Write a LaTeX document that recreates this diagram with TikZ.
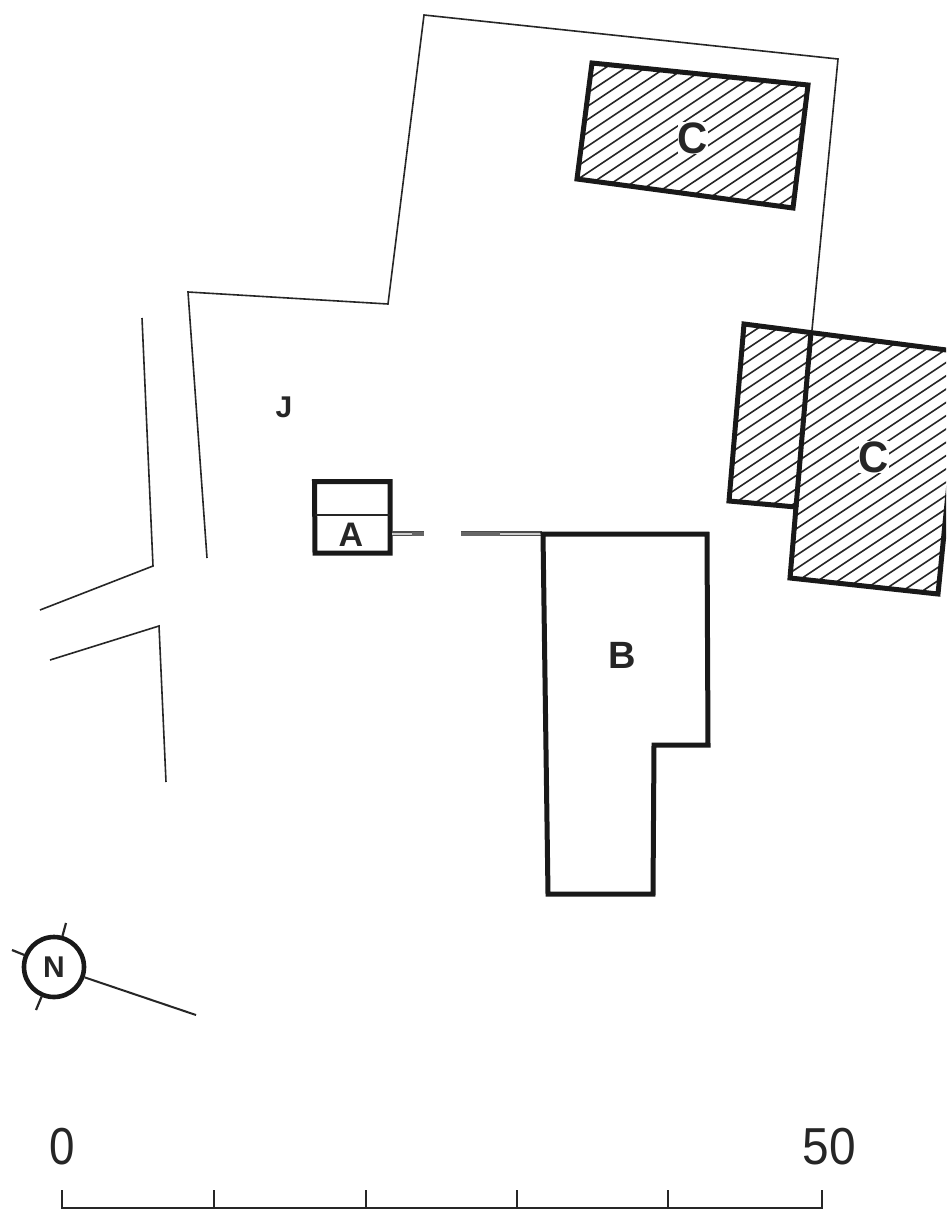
\documentclass[tikz,border=0pt]{standalone}
\usepackage{fontspec}
\setmainfont{Liberation Sans}
\tikzset{
  thinwall/.style={draw=black!85,line width=1.6pt,line join=miter},
  heavy/.style={draw=black!90,line width=5pt,line join=miter},
  hatch/.style={draw=black!85,line width=1.6pt},
  lab/.style={inner sep=0pt,text=black!85},
  scaleline/.style={draw=black!85,line width=1.5pt},
  stub/.style={draw=black!70,double=black!20,double distance=2pt,line width=1.3pt},
  stubdark/.style={draw=black!60,line width=4pt}
}
\begin{document}
\begin{tikzpicture}[x=1pt,y=-1pt]
\useasboundingbox (0,0) rectangle (946,1210);
\clip (0,0) rectangle (946,1210);
\fill[white] (0,0) rectangle (946,1210);
% site boundary and road
\draw[thinwall] (207,558) -- (188,292) -- (388,304) -- (424,15) -- (838,59) -- (812,330);
\draw[thinwall] (142,318) -- (153,566) -- (40,610);
\draw[thinwall] (50,660) -- (159,626) -- (166,782);
% hatched block top
\begin{scope}
  \clip (592,63) -- (808,85) -- (793,208) -- (577,179) -- cycle;
  \foreach \i in {0,...,30}{
    \draw[hatch] (500,{\i*13.3+111.4}) -- (1000,{\i*13.3+111.4-333});
  }
\end{scope}
\draw[heavy] (592,63) -- (808,85) -- (793,208) -- (577,179) -- cycle;
\node[lab,font=\bfseries\fontsize{44}{44}\selectfont,fill=white,xscale=0.95] (c1) at (693,138) {C};
% hatched block right
\begin{scope}
  \clip (744,324) -- (962,352) -- (938,594) -- (790,578) -- (796,507) -- (729,501) -- cycle;
  \foreach \i in {0,...,36}{
    \draw[hatch] (500,{\i*13.3+446.8}) -- (1000,{\i*13.3+446.8-333});
  }
\end{scope}
\draw[heavy] (744,324) -- (962,352) -- (938,594) -- (790,578) -- (796,507) -- (729,501) -- cycle;
\draw[heavy] (811,332) -- (796,507);
\node[lab,font=\bfseries\fontsize{44}{44}\selectfont,fill=white,xscale=0.95] (c2) at (874,457) {C};
% A
\draw[heavy] (314.5,481.5) -- (390,481.5) -- (390,553) -- (315,553) -- cycle;
\draw[draw=black!85,line width=1.6pt] (315,515) -- (390,515);
\node[lab,font=\bfseries\fontsize{34}{34}\selectfont] (a) at (351,535) {A};
\draw[stub] (392,533.5) -- (424,533.5);
\draw[stub] (461,533.5) -- (542,533.5);
\draw[stubdark] (412,533.5) -- (424,533.5);
\draw[stubdark] (461,533.5) -- (500,533.5);
% B
\draw[heavy] (543,534) -- (707,534) -- (708,745) -- (654,745) -- (653,894) -- (548,894) -- cycle;
\node[lab,font=\bfseries\fontsize{38}{38}\selectfont] (b) at (622,655) {B};
% J
\node[lab,font=\bfseries\fontsize{30}{30}\selectfont] (j) at (284,407) {J};
% north
\node[circle,draw=black!90,line width=4.6pt,minimum size=60pt,inner sep=0pt,
  font=\bfseries\fontsize{30}{30}\selectfont,text=black!85] (n) at (54,967) {N};
\coordinate (n1) at (66,923);
\coordinate (n2) at (12,950);
\coordinate (n3) at (36,1010);
\coordinate (n4) at (196,1015);
\draw[draw=black!85,line width=2.2pt] (n) -- (n1);
\draw[draw=black!85,line width=2.2pt] (n) -- (n2);
\draw[draw=black!85,line width=2.2pt] (n) -- (n3);
\draw[draw=black!85,line width=2pt] (n) -- (n4);
% scale
\draw[scaleline] (62,1190) -- (62,1208) -- (822,1208) -- (822,1190);
\foreach \x in {214,366,517,668}{
  \draw[scaleline] (\x,1190) -- (\x,1208);
}
\node[lab,font=\fontsize{52}{52}\selectfont,xscale=0.88] (s0) at (62,1147) {0};
\node[lab,font=\fontsize{52}{52}\selectfont,xscale=0.92] (s50) at (829,1147) {50};
\end{tikzpicture}
\end{document}
